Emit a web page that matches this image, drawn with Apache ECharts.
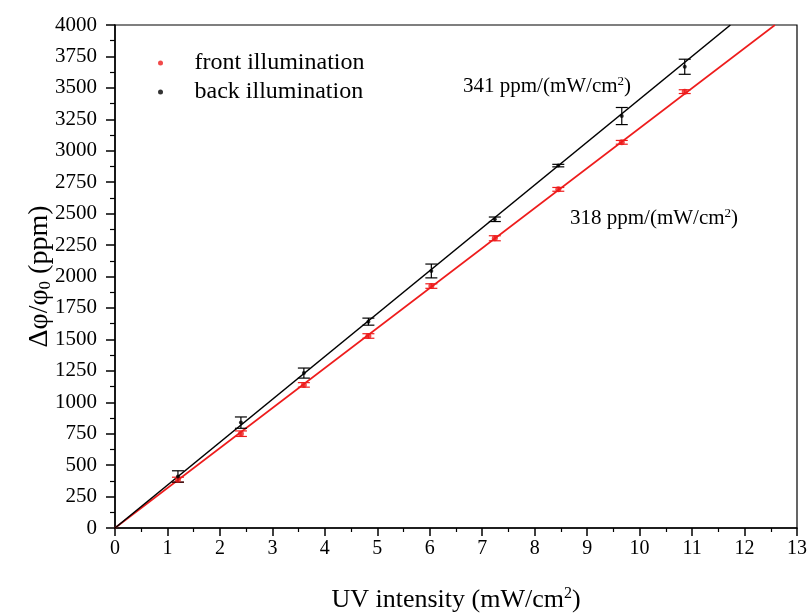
<!DOCTYPE html>
<html><head><meta charset="utf-8">
<script src="https://cdn.jsdelivr.net/npm/echarts@6/dist/echarts.min.js"></script>
<style>html,body{margin:0;padding:0;background:#fff}#c{width:811px;height:615px}</style>
</head><body><div id="c"></div>
<script>
var xValues = [1.2, 2.4, 3.6, 4.83, 6.03, 7.24, 8.45, 9.66, 10.86];
var frontY = [384, 750, 1138, 1527, 1924, 2304, 2693, 3067, 3470];
var frontErr = [20, 22, 18, 18, 18, 20, 15, 15, 15];
var backY = [410, 838, 1232, 1641, 2044, 2455, 2882, 3276, 3668];
var backErr = [45, 45, 40, 28, 55, 18, 10, 68, 60];
var frontFitLine = [[0, 0], [12.58, 4000]];
var backFitLine = [[0, 0], [11.73, 4000]];
var frontLabel = 'front illumination';
var backLabel = 'back illumination';
var RED = '#ee1c1c', BLK = '#000';
var FONT = 'Liberation Serif';

function pts(xs, ys) { return xs.map(function (x, i) { return [x, ys[i]]; }); }
function errs(xs, ys, es) { return xs.map(function (x, i) { return [x, ys[i] - es[i], ys[i] + es[i]]; }); }
function errRender(color) {
  return function (params, api) {
    var lo = api.coord([api.value(0), api.value(1)]);
    var hi = api.coord([api.value(0), api.value(2)]);
    var w = 6;
    var st = { stroke: color, lineWidth: 1.2 };
    return { type: 'group', children: [
      { type: 'line', shape: { x1: lo[0], y1: lo[1], x2: hi[0], y2: hi[1] }, style: st },
      { type: 'line', shape: { x1: lo[0] - w, y1: lo[1], x2: lo[0] + w, y2: lo[1] }, style: st },
      { type: 'line', shape: { x1: hi[0] - w, y1: hi[1], x2: hi[0] + w, y2: hi[1] }, style: st }
    ]};
  };
}

var chart = echarts.init(document.getElementById('c'));
chart.setOption({
  animation: false,
  textStyle: { fontFamily: FONT },
  grid: { left: 115, right: 14, top: 25, bottom: 87, show: true, borderColor: '#000', borderWidth: 1.2,
          containLabel: false, outerBoundsMode: 'none' },
  xAxis: {
    type: 'value', min: 0, max: 13, interval: 1,
    name: 'UV intensity (mW/cm{sup|2}{n|)}', nameLocation: 'middle', nameGap: 58, nameMoveOverlap: false,
    nameTextStyle: { fontFamily: FONT, fontSize: 26, color: '#000',
      rich: { sup: { fontFamily: FONT, fontSize: 16, color: '#000', verticalAlign: 'top', padding: [0, 0, 12, 0] },
              n: { fontFamily: FONT, fontSize: 26, color: '#000' } } },
    axisLine: { lineStyle: { color: '#000', width: 1.5 } },
    axisTick: { inside: false, length: 8, lineStyle: { color: '#000', width: 1.5 } },
    minorTick: { show: true, splitNumber: 2, length: 4, lineStyle: { color: '#000', width: 1.2 } },
    axisLabel: { fontFamily: FONT, fontSize: 20, color: '#000', margin: 11 },
    splitLine: { show: false }
  },
  yAxis: {
    type: 'value', min: 0, max: 4000, interval: 250,
    name: 'Δφ/φ{sub|0}{n| (ppm)}', nameLocation: 'middle', nameGap: 61, nameMoveOverlap: false,
    nameTextStyle: { fontFamily: FONT, fontSize: 28, color: '#000',
      rich: { sub: { fontFamily: FONT, fontSize: 17, color: '#000', verticalAlign: 'bottom', padding: [10, 0, 0, 0] },
              n: { fontFamily: FONT, fontSize: 28, color: '#000' } } },
    axisLine: { show: true, lineStyle: { color: '#000', width: 1.5 } },
    axisTick: { inside: false, length: 9, lineStyle: { color: '#000', width: 1.5 } },
    minorTick: { show: true, splitNumber: 2, length: 5, lineStyle: { color: '#000', width: 1.2 } },
    axisLabel: { fontFamily: FONT, fontSize: 21, color: '#000', margin: 18, formatter: function (v) { return String(v); } },
    splitLine: { show: false }
  },
  series: [
    { type: 'line', data: frontFitLine, showSymbol: false, symbol: 'none', lineStyle: { color: RED, width: 1.6 }, z: 2, silent: true },
    { type: 'line', data: backFitLine, showSymbol: false, symbol: 'none', lineStyle: { color: BLK, width: 1.6 }, z: 2, silent: true },
    { type: 'custom', data: errs(xValues, frontY, frontErr), renderItem: errRender(RED), z: 3 },
    { type: 'custom', data: errs(xValues, backY, backErr), renderItem: errRender(BLK), z: 3 },
    { type: 'scatter', name: frontLabel, data: pts(xValues, frontY), symbol: 'circle', symbolSize: 6, itemStyle: { color: RED }, z: 4 },
    { type: 'scatter', name: backLabel, data: pts(xValues, backY), symbol: 'circle', symbolSize: 4, itemStyle: { color: BLK }, z: 5 }
  ],
  legend: {
    left: 153, top: 46, orient: 'vertical', itemGap: 5, itemWidth: 14, itemHeight: 5,
    data: [{ name: frontLabel, icon: 'circle' }, { name: backLabel, icon: 'circle' }],
    textStyle: { fontFamily: FONT, fontSize: 24, lineHeight: 24, color: '#000', padding: [0, 0, 0, 22] }
  },
  graphic: [
    { type: 'text', left: 463, top: 75, style: { text: '341 ppm/(mW/cm{sup|2}{n|)}', font: '21px "Liberation Serif"', fill: '#000',
      rich: { sup: { fontSize: 13, fontFamily: FONT, verticalAlign: 'top', padding: [0, 0, 9, 0] }, n: { fontSize: 21, fontFamily: FONT } } } },
    { type: 'text', left: 570, top: 207, style: { text: '318 ppm/(mW/cm{sup|2}{n|)}', font: '21px "Liberation Serif"', fill: '#000',
      rich: { sup: { fontSize: 13, fontFamily: FONT, verticalAlign: 'top', padding: [0, 0, 9, 0] }, n: { fontSize: 21, fontFamily: FONT } } } }
  ]
});
</script></body></html>
